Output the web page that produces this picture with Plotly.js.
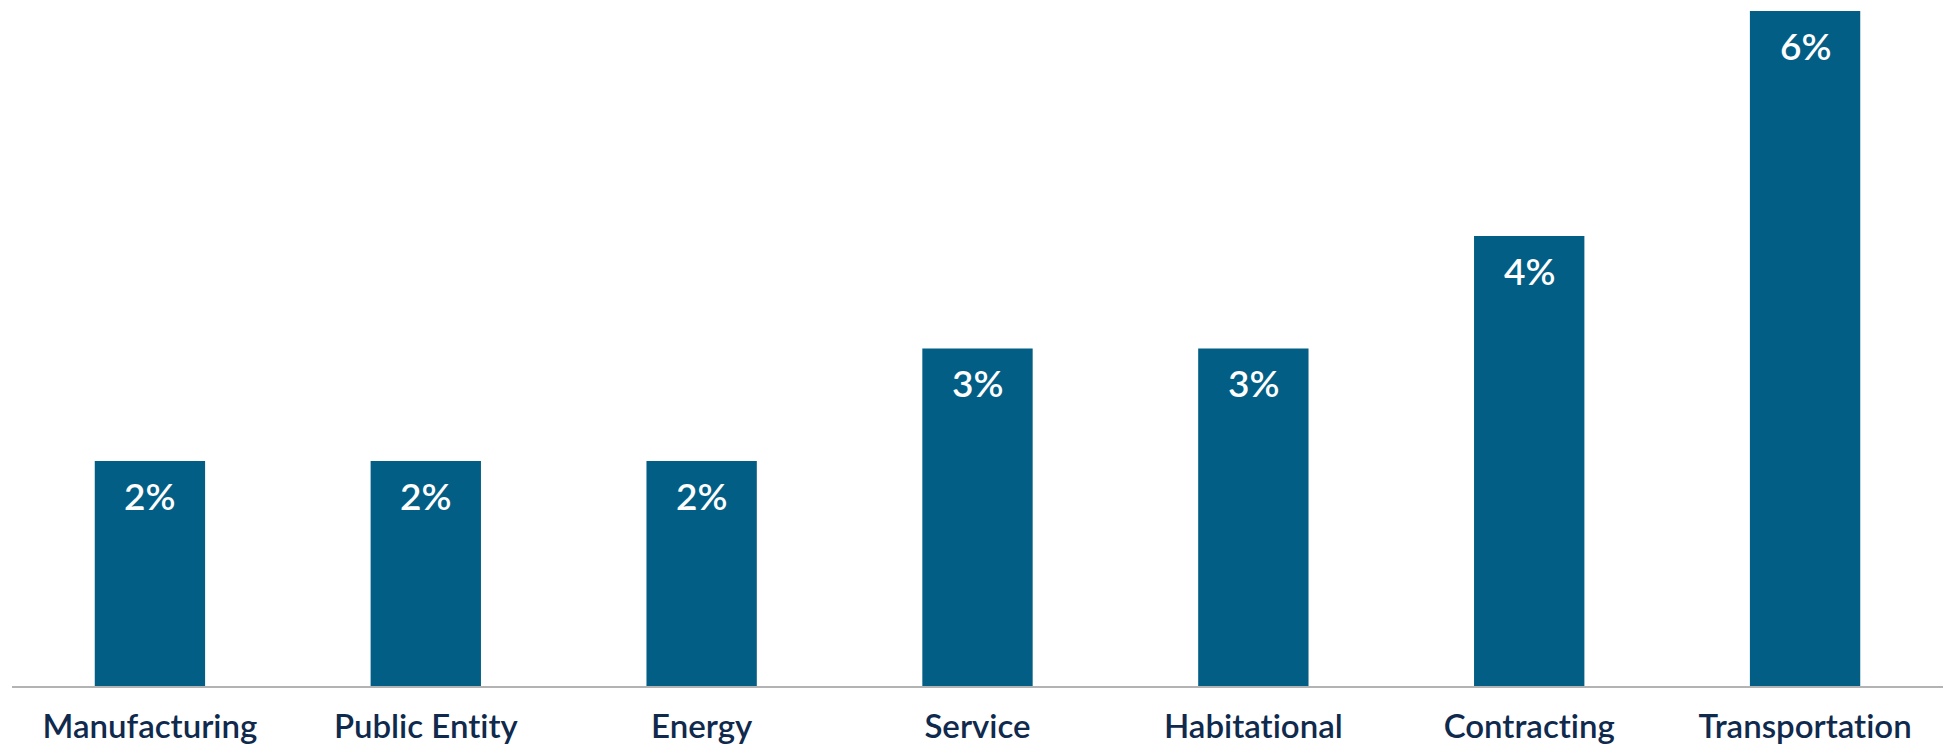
<!DOCTYPE html>
<html><head><meta charset="utf-8">
<script src="https://cdn.plot.ly/plotly-3.0.1.min.js"></script>
<style>html,body{margin:0;padding:0;background:#fff}#chart{width:1948px;height:747px}
#chart text{font-variant-ligatures:none;font-feature-settings:"liga" 0,"clig" 0}</style>
</head><body><div id="chart"></div>
<script>
const categories = ["Manufacturing","Public Entity","Energy","Service","Habitational","Contracting","Transportation"];
const values = [2,2,2,3,3,4,6];
const labels = ["2%","2%","2%","3%","3%","4%","6%"];

const barColor = "#025e84";
const annotations = categories.map((c,i)=>({
  x: c, y: values[i], xref:"x", yref:"y", text: labels[i], showarrow:false,
  yanchor:"middle", yshift:-34,
  font:{family:"Lato, 'Open Sans', sans-serif", size:37, color:"#ffffff", weight:600}
}));

Plotly.newPlot("chart",[{
  type:"bar", x:categories, y:values, marker:{color:barColor}, hoverinfo:"skip"
}],{
  width:1948, height:747,
  margin:{l:12,r:5,t:0,b:61},
  paper_bgcolor:"#fff", plot_bgcolor:"#fff",
  bargap:0.6, showlegend:false,
  xaxis:{showline:true, linecolor:"#b3b3b3", linewidth:2, ticks:"", showgrid:false,
    ticklabelstandoff:10,
    tickfont:{family:"Lato, 'Open Sans', sans-serif", size:33, color:"#0f2a4d", weight:600}},
  yaxis:{range:[0,6.098], visible:false, showgrid:false, zeroline:false},
  annotations: annotations
},{staticPlot:true});
</script></body></html>
